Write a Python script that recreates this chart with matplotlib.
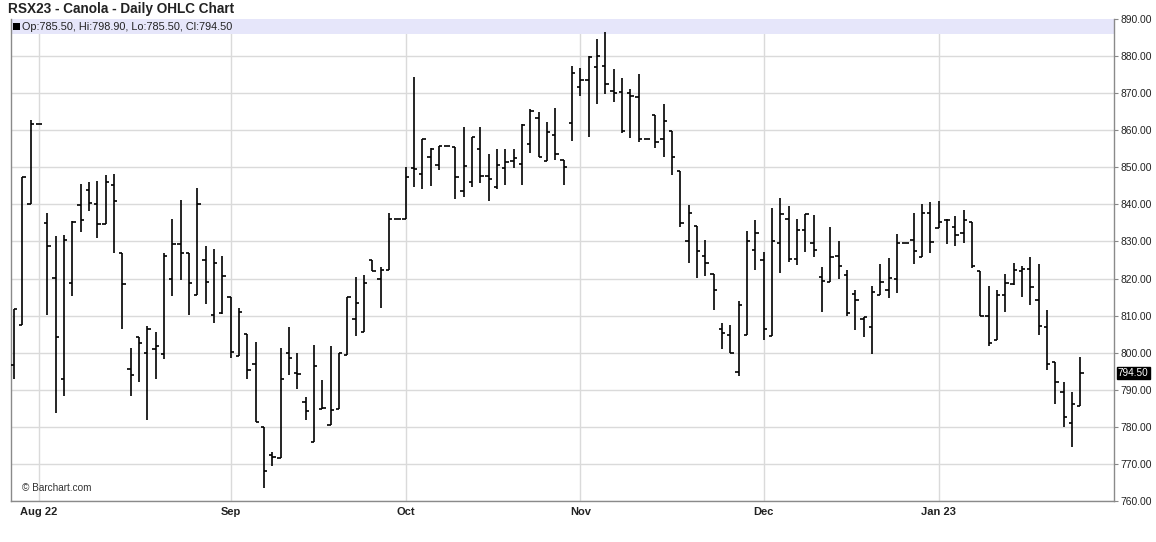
import matplotlib
matplotlib.use("Agg")
import matplotlib.pyplot as plt
from matplotlib.patches import Rectangle
import matplotlib.transforms as mtransforms

plt.rcParams['font.family'] = ['Liberation Sans', 'DejaVu Sans']

# ---- data (one bar per trading day, late Jul 2022 -> late Jan 2023) ----
opens = [796.8, 807.4, 840.2, 861.6, 835.1, 820.2, 793.0, 818.7, 839.7, 843.9,
         840.0, 834.6, 845.1, 827.0, 795.5, 804.1, 800.0, 800.9, 799.7, 820.0,
         829.2, 826.9, 815.6, 824.9, 810.3, 810.7, 814.9, 799.2, 805.0, 797.0,
         779.9, 772.3, 771.5, 800.0, 794.5, 786.6, 775.9, 784.8, 780.5, 784.8,
         799.5, 809.1, 805.7, 824.9, 819.8, 822.3, 836.0, 836.0, 849.9, 848.3,
         852.9, 850.5, 855.8, 855.6, 843.7, 846.0, 854.9, 847.7, 844.8, 849.9,
         851.8, 851.0, 856.2, 863.2, 851.6, 858.8, 852.0, 862.0, 871.7, 873.5,
         877.0, 877.3, 870.5, 870.3, 870.0, 869.0, 857.6, 864.1, 857.6, 859.9,
         849.0, 830.0, 834.1, 826.0, 821.2, 806.5, 804.7, 794.8, 804.7, 827.6,
         824.9, 804.4, 829.5, 836.0, 825.3, 833.2, 829.5, 820.5, 819.0, 826.0,
         821.0, 815.9, 809.1, 807.0, 815.6, 817.0, 819.9, 829.6, 830.5, 825.9,
         837.7, 833.7, 835.7, 834.0, 832.3, 835.3, 821.9, 810.0, 803.3, 815.6,
         818.5, 821.9, 822.7, 814.3, 807.0, 797.5, 789.5, 781.0, 785.5]
highs = [811.9, 847.3, 862.7, 861.6, 837.6, 831.4, 831.7, 835.5, 845.5, 846.0,
         846.3, 847.9, 848.2, 827.0, 801.2, 804.1, 807.1, 805.6, 827.0, 836.0,
         841.3, 826.9, 844.3, 828.9, 828.1, 826.2, 814.9, 812.1, 805.0, 803.0,
         779.9, 773.3, 801.3, 807.0, 800.0, 788.1, 802.0, 792.7, 801.7, 800.0,
         815.0, 820.5, 820.9, 824.9, 823.0, 837.8, 836.0, 850.2, 874.4, 857.7,
         855.2, 855.8, 855.8, 855.6, 860.8, 858.3, 860.8, 853.5, 855.0, 854.9,
         854.9, 861.8, 865.6, 865.0, 862.2, 866.0, 852.0, 877.3, 876.8, 880.0,
         884.7, 886.5, 876.6, 874.1, 871.2, 875.2, 857.6, 864.1, 867.1, 859.9,
         849.0, 839.8, 834.1, 830.3, 821.2, 807.9, 807.6, 814.0, 832.8, 835.7,
         827.1, 838.9, 841.6, 839.5, 836.0, 837.3, 837.1, 823.0, 833.8, 830.0,
         822.4, 816.8, 809.5, 818.0, 823.8, 825.5, 832.0, 829.6, 837.6, 840.0,
         840.6, 840.8, 836.1, 837.0, 838.4, 835.3, 821.9, 818.1, 817.0, 821.3,
         824.1, 823.5, 825.9, 823.8, 811.4, 797.5, 792.0, 789.5, 798.9]
lows = [793.0, 807.4, 840.2, 861.6, 810.1, 783.6, 788.3, 815.2, 832.6, 838.3,
        831.0, 834.6, 826.9, 806.3, 788.3, 792.1, 781.8, 793.0, 798.2, 815.3,
        819.6, 810.3, 815.6, 813.0, 807.9, 810.5, 798.6, 799.2, 792.9, 781.3,
        763.4, 769.5, 771.5, 793.9, 790.2, 781.8, 775.9, 784.8, 780.5, 784.8,
        799.5, 804.6, 805.7, 822.0, 812.0, 822.3, 836.0, 836.0, 844.7, 844.1,
        845.0, 849.3, 855.8, 841.5, 842.1, 844.8, 845.9, 840.9, 844.2, 845.3,
        849.7, 845.2, 853.9, 852.8, 851.6, 852.1, 845.3, 857.0, 869.2, 858.1,
        867.2, 869.7, 867.5, 859.3, 858.0, 856.8, 857.6, 855.1, 852.9, 848.0,
        833.8, 824.2, 820.2, 820.7, 811.5, 801.1, 800.0, 793.7, 804.7, 822.2,
        803.5, 804.4, 821.5, 824.4, 823.6, 827.1, 825.8, 810.9, 819.0, 819.9,
        810.0, 806.0, 804.1, 799.7, 815.6, 814.7, 816.0, 829.6, 824.0, 825.9,
        826.9, 833.7, 829.4, 828.7, 829.6, 822.9, 810.0, 801.9, 803.3, 810.9,
        818.2, 815.0, 812.8, 804.7, 795.2, 786.1, 780.0, 774.5, 785.5]
closes = [811.7, 847.3, 861.6, 861.6, 828.7, 804.1, 830.5, 835.3, 835.7, 840.5,
          834.6, 846.0, 840.9, 818.5, 794.1, 802.7, 806.5, 801.9, 826.0, 829.2,
          827.0, 818.8, 840.0, 819.1, 824.3, 820.7, 800.3, 811.0, 795.3, 781.3,
          768.0, 772.0, 792.9, 798.6, 794.3, 784.3, 796.4, 785.0, 784.6, 800.0,
          815.0, 813.4, 818.8, 822.0, 822.3, 836.0, 836.0, 847.3, 849.6, 857.7,
          855.0, 855.8, 855.8, 847.5, 850.3, 858.1, 847.7, 846.8, 850.7, 851.3,
          852.5, 861.4, 865.2, 852.8, 859.5, 853.7, 850.0, 875.4, 873.5, 879.8,
          880.0, 872.4, 870.0, 859.7, 869.2, 857.6, 857.6, 856.8, 862.4, 852.7,
          834.9, 837.7, 827.3, 824.3, 816.8, 805.4, 800.0, 812.9, 830.1, 832.3,
          806.4, 830.2, 837.3, 825.3, 833.0, 837.3, 827.7, 819.4, 825.9, 823.4,
          810.7, 814.3, 809.5, 816.4, 819.2, 820.2, 829.6, 829.6, 827.3, 837.7,
          829.8, 835.3, 835.7, 831.8, 835.9, 823.4, 810.0, 802.6, 815.6, 818.8,
          822.2, 822.7, 817.7, 807.2, 797.0, 792.1, 782.6, 786.1, 794.5]

month_labels = ["Aug 22", "Sep", "Oct", "Nov", "Dec", "Jan 23"]
month_start_index = [3, 26, 47, 68, 90, 111]
y_ticks = list(range(760, 891, 10))
last_price = "794.50"
legend_text = "Op:785.50, Hi:798.90, Lo:785.50, Cl:794.50"
title = "RSX23 - Canola - Daily OHLC Chart"

# ---- figure ----
W, H = 1156, 542
fig = plt.figure(figsize=(W / 100, H / 100), dpi=100)
fig.patch.set_facecolor("white")
ax_left, ax_right, ax_top, ax_bot = 10.7, 1114.3, 19, 501
ax = fig.add_axes([ax_left / W, 1 - ax_bot / H, (ax_right - ax_left) / W, (ax_bot - ax_top) / H])

n = len(opens)
xs = list(range(n))
px_per_bar = 8.33
ax.set_xlim((ax_left - 14) / px_per_bar, (ax_right - 14) / px_per_bar)
ax.set_ylim(760, 890)

tick = 0.4
ax.vlines(xs, lows, highs, color="black", lw=1.2, zorder=3)
ax.hlines(opens, [x - tick for x in xs], xs, color="black", lw=1.2, zorder=3)
ax.hlines(closes, xs, [x + tick for x in xs], color="black", lw=1.2, zorder=3)

# grid
ax.set_yticks(y_ticks)
ax.set_yticklabels([f"{v:.2f}" for v in y_ticks])
ax.set_xticks(month_start_index)
ax.set_xticklabels(month_labels)
ax.grid(True, color="#dadada", lw=1.0, zorder=0)
ax.set_axisbelow(True)

# header band
band_h = 15 / (ax_bot - ax_top)
ax.add_patch(Rectangle((0, 1 - band_h), 1, band_h, transform=ax.transAxes,
                       facecolor="#e6e6fa", edgecolor="none", zorder=2))

ax.yaxis.tick_right()
ax.tick_params(axis="y", which="both", length=3, width=0.8, color="#888888",
               labelsize=7.4, labelcolor="#222222", pad=1.5)
ax.tick_params(axis="x", length=0, pad=4.5)
for lab in ax.get_xticklabels():
    lab.set_family(["Liberation Sans Narrow", "Liberation Sans", "DejaVu Sans"])
    lab.set_fontweight("bold")
    lab.set_fontsize(8)
    lab.set_color("#222222")

for side in ["left", "right", "bottom"]:
    ax.spines[side].set_color("#8a8a8a")
    ax.spines[side].set_linewidth(1.0)
ax.spines["top"].set_visible(False)

# last price box
trans = mtransforms.blended_transform_factory(ax.transAxes, ax.transData)
ax.text(1.0 + 3.5 / (ax_right - ax_left), 794.5, last_price, transform=trans,
        ha="left", va="center", fontsize=7.2, color="white", zorder=10,
        bbox=dict(boxstyle="square,pad=0.12", facecolor="black", edgecolor="black"),
        clip_on=False)

# texts
fig.text(8 / W, 1 - 8.5 / H, title, ha="left", va="center", fontsize=9.8,
         fontweight="bold", color="#222222")
fig.patches.append(Rectangle((13 / W, 1 - 29.5 / H), 6.5 / W, 6.5 / H, transform=fig.transFigure,
                             facecolor="black", edgecolor="none", figure=fig))
fig.text(22 / W, 1 - 26.5 / H, legend_text, ha="left", va="center", fontsize=7.8,
         color="#222222")
fig.text(22 / W, 1 - 488 / H, "\u00a9 Barchart.com", ha="left", va="center", fontsize=7.2,
         family=["Liberation Sans Narrow", "Liberation Sans", "DejaVu Sans"], color="#333333")

fig.savefig("out.png", dpi=100)
